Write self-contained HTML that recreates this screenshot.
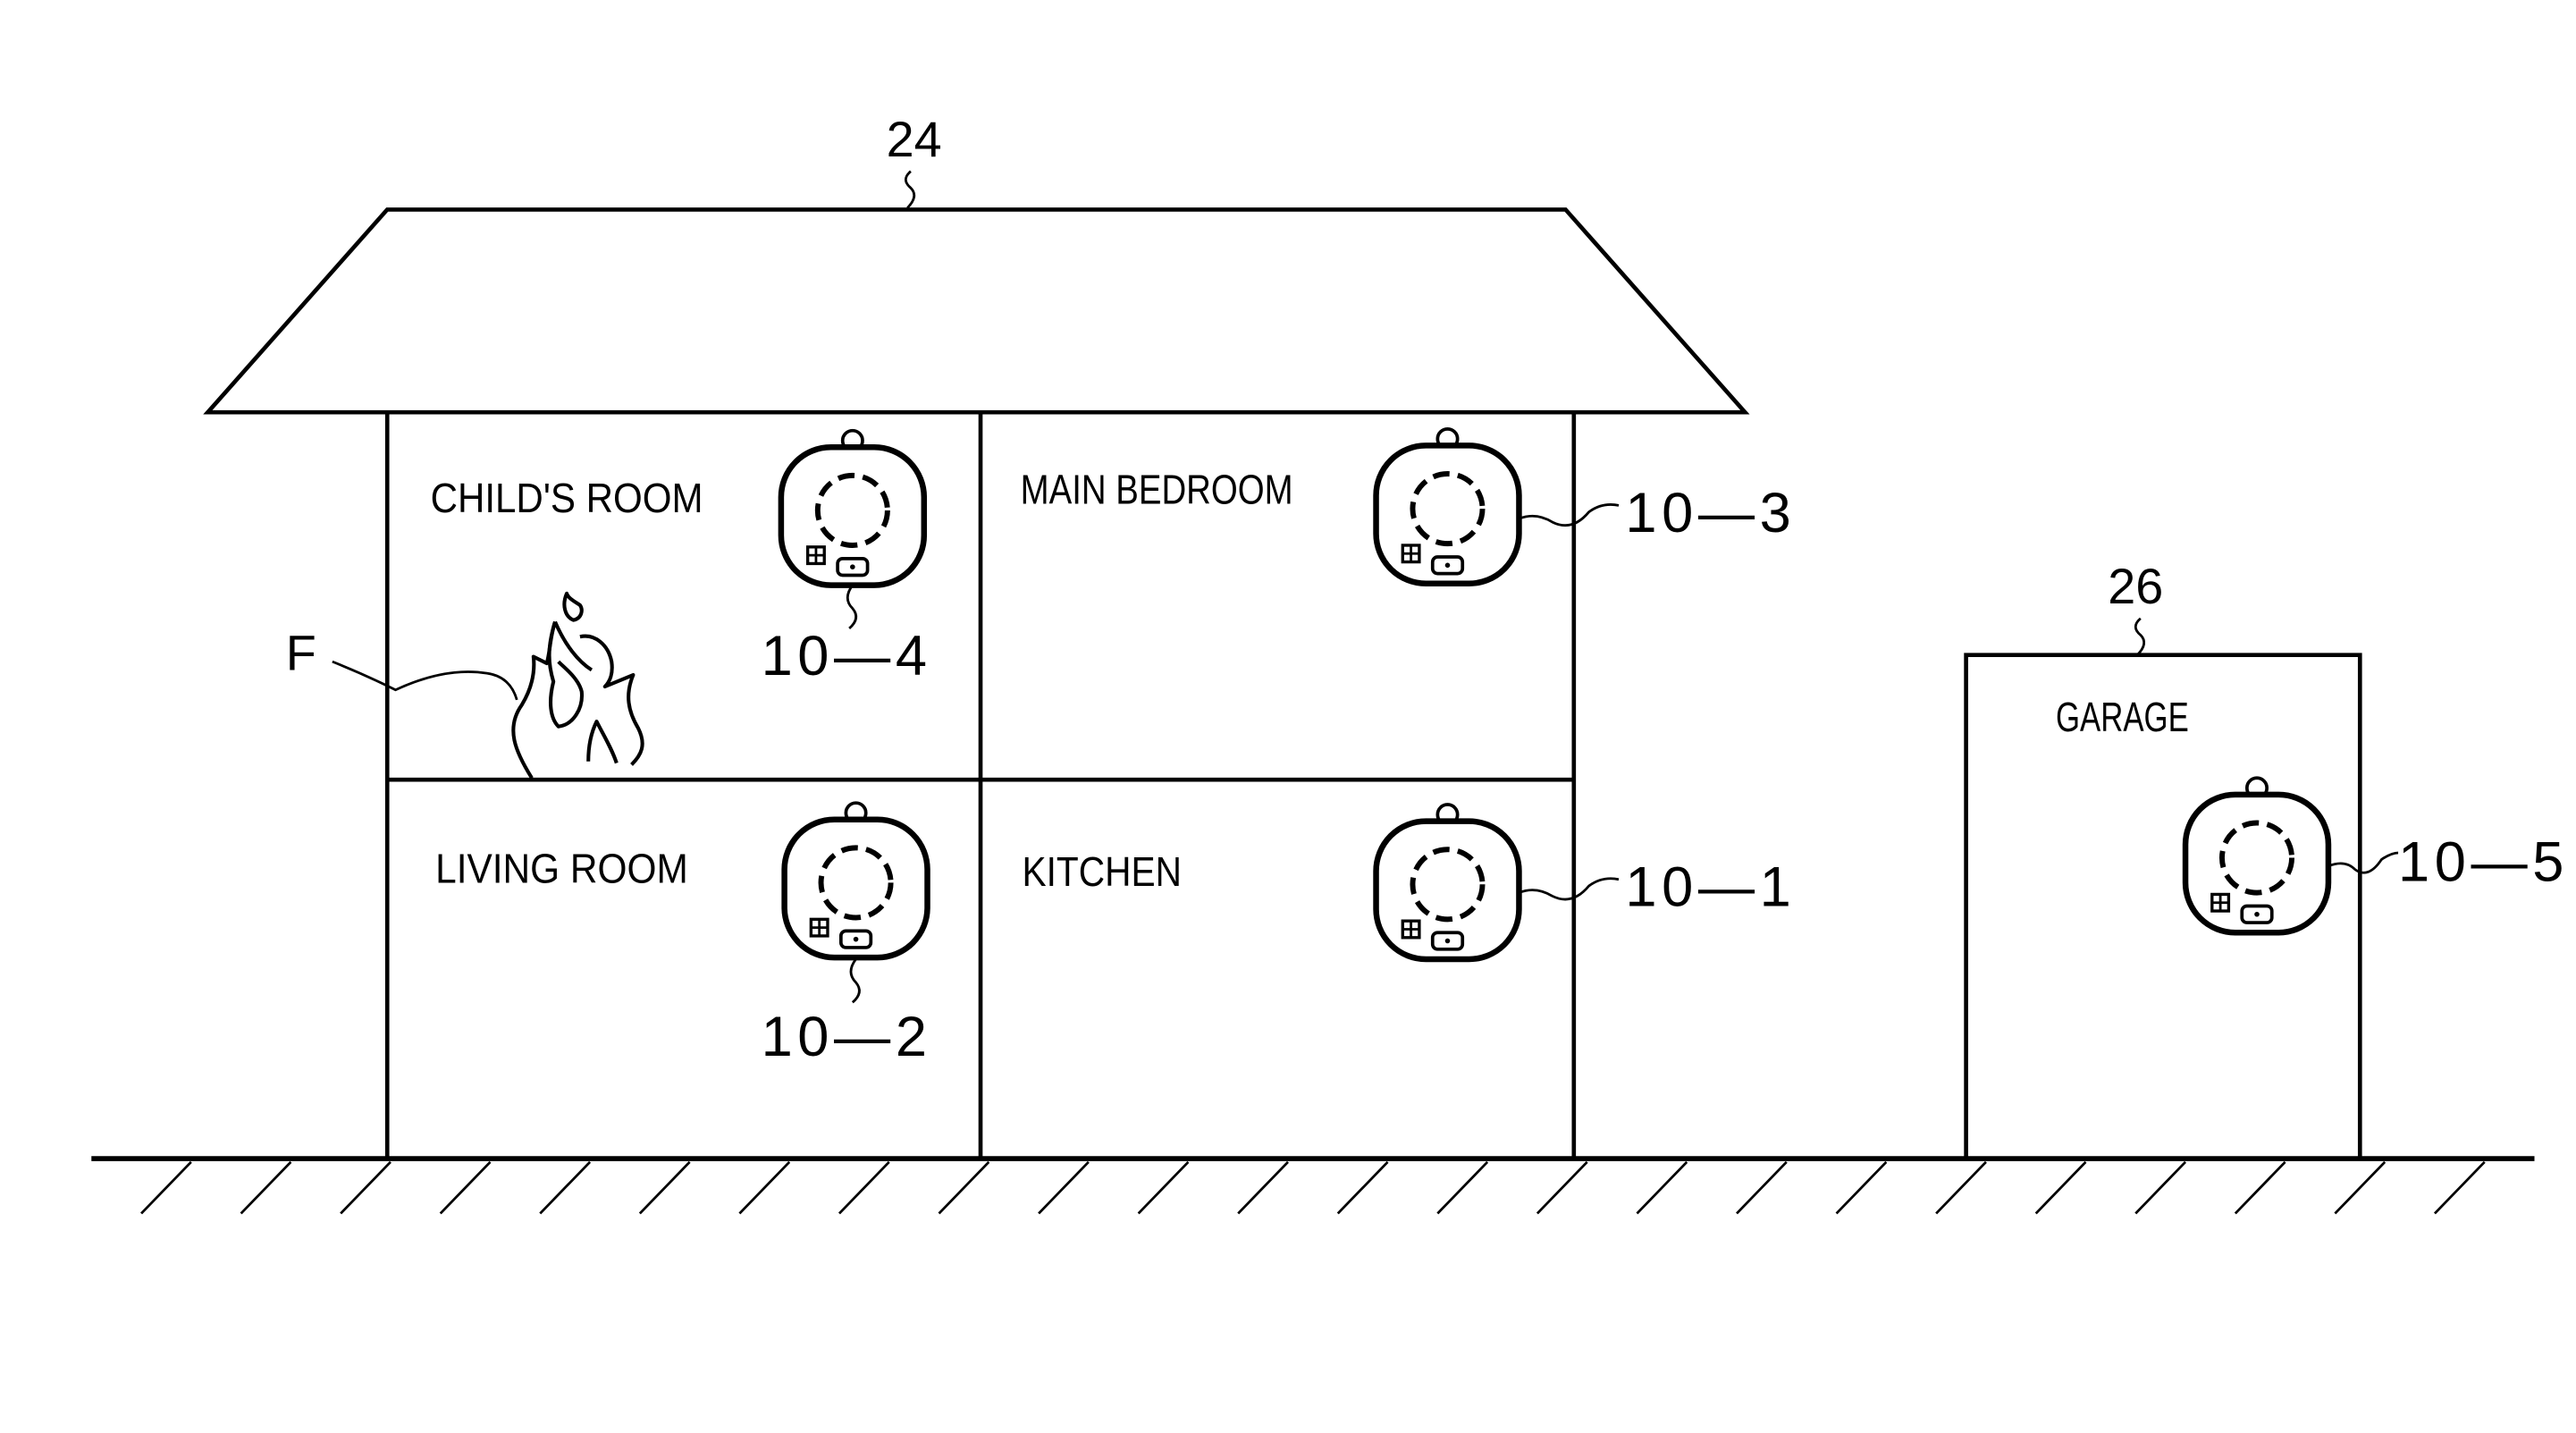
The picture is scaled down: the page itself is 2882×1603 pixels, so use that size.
<!DOCTYPE html>
<html><head><meta charset="utf-8"><style>html,body{margin:0;padding:0;background:#fff}svg{display:block}</style></head>
<body>
<svg width="2882" height="1603" viewBox="0 0 1550 862" xmlns="http://www.w3.org/2000/svg">
<defs>
<g id="det" fill="none" stroke="#000">
  <circle cx="0" cy="-45" r="6" stroke-width="2" fill="#fff"/>
  <rect x="-43" y="-41" width="86" height="83" rx="30" stroke-width="3.5" fill="#fff"/>
  <circle cx="0" cy="-3" r="21" stroke-width="3.2" stroke-dasharray="10 5"/>
  <rect x="-9" y="26" width="18" height="10" rx="3" stroke-width="2"/>
  <circle cx="0" cy="31" r="1.5" fill="#000" stroke="none"/>
  <rect x="-27" y="19" width="10" height="10" stroke-width="1.8"/>
  <line x1="-22" y1="19" x2="-22" y2="29" stroke-width="1.5"/>
  <line x1="-27" y1="24" x2="-17" y2="24" stroke-width="1.5"/>
</g>
</defs>
<g fill="none" stroke="#000" stroke-width="2.5">
  <polygon points="233,126 942,126 1050,248 125,248"/>
  <line x1="233" y1="248" x2="233" y2="697"/>
  <line x1="590" y1="248" x2="590" y2="697"/>
  <line x1="947" y1="248" x2="947" y2="697"/>
  <line x1="233" y1="469" x2="947" y2="469"/>
  <polyline points="1183,697 1183,394 1420,394 1420,697"/>
  <line x1="55" y1="697" x2="1525" y2="697" stroke-width="3"/>
</g>
<g stroke="#000" stroke-width="1.5">
  <line x1="115" y1="699" x2="85" y2="730"/><line x1="175" y1="699" x2="145" y2="730"/>
  <line x1="235" y1="699" x2="205" y2="730"/><line x1="295" y1="699" x2="265" y2="730"/>
  <line x1="355" y1="699" x2="325" y2="730"/><line x1="415" y1="699" x2="385" y2="730"/>
  <line x1="475" y1="699" x2="445" y2="730"/><line x1="535" y1="699" x2="505" y2="730"/>
  <line x1="595" y1="699" x2="565" y2="730"/><line x1="655" y1="699" x2="625" y2="730"/>
  <line x1="715" y1="699" x2="685" y2="730"/><line x1="775" y1="699" x2="745" y2="730"/>
  <line x1="835" y1="699" x2="805" y2="730"/><line x1="895" y1="699" x2="865" y2="730"/>
  <line x1="955" y1="699" x2="925" y2="730"/><line x1="1015" y1="699" x2="985" y2="730"/>
  <line x1="1075" y1="699" x2="1045" y2="730"/><line x1="1135" y1="699" x2="1105" y2="730"/>
  <line x1="1195" y1="699" x2="1165" y2="730"/><line x1="1255" y1="699" x2="1225" y2="730"/>
  <line x1="1315" y1="699" x2="1285" y2="730"/><line x1="1375" y1="699" x2="1345" y2="730"/>
  <line x1="1435" y1="699" x2="1405" y2="730"/><line x1="1495" y1="699" x2="1465" y2="730"/>
</g>
<use href="#det" x="513" y="310"/>
<use href="#det" x="871" y="309"/>
<use href="#det" x="515" y="534"/>
<use href="#det" x="871" y="535"/>
<use href="#det" x="1358" y="519"/>
<g fill="none" stroke="#000" stroke-width="1.5">
  <path d="M548,103 q-6,5 0,10 q5,5 -2,12"/>
  <path d="M1288,372 q-6,5 0,10 q5,5 -2,12"/>
  <path d="M513,352 q-6,8 0,14 q5,6 -2,12"/>
  <path d="M515,577 q-6,8 0,14 q5,6 -2,12"/>
  <path d="M914,312 q10,-4 20,2 q12,6 22,-6 q8,-6 18,-4"/>
  <path d="M914,537 q10,-4 20,2 q12,6 22,-6 q8,-6 18,-4"/>
  <path d="M1401,521 q10,-4 16,2 q8,6 16,-6 q6,-4 10,-4"/>
  <path d="M200,398 q20,8 38,17 q30,-14 55,-10 q14,2 18,16"/>
</g>
<g fill="none" stroke="#000" stroke-width="2.2" stroke-linejoin="round">
  <path d="M320,468 C310,452 304,438 314,424 C320,414 322,404 321,395 L329,399 C331,392 331,383 334,374"/>
  <path d="M334,374 C340,388 348,398 356,403"/>
  <path d="M349,383 C358,381 366,388 368,398 C369,405 367,410 364,413 L381,406 C376,418 378,428 384,438 C389,448 386,454 380,460"/>
  <path d="M334,374 C329,390 330,400 333,410 C330,422 331,432 336,437 C345,436 351,426 350,416 C348,408 340,402 336,398"/>
  <path d="M354,458 C354,448 356,440 359,434 C363,442 368,450 371,459"/>
  <path d="M341,357 C338,364 340,371 345,373 C350,372 351,367 349,364 C346,362 342,360 341,357 Z"/>
</g>
<g font-family="Liberation Sans, sans-serif" fill="#000">
  <text x="550" y="94" font-size="30" text-anchor="middle">24</text>
  <text x="1285" y="363" font-size="30" text-anchor="middle">26</text>
  <text x="172" y="403" font-size="30">F</text>
  <g font-size="34" letter-spacing="3">
  <text x="458" y="406">10—4</text>
  <text x="458" y="635">10—2</text>
  <text x="978" y="320">10—3</text>
  <text x="978" y="545">10—1</text>
  <text x="1443" y="530">10—5</text>
  </g>
  <g font-size="25">
    <text x="259" y="308" textLength="164" lengthAdjust="spacingAndGlyphs">CHILD'S ROOM</text>
    <text x="614" y="303" textLength="164" lengthAdjust="spacingAndGlyphs">MAIN BEDROOM</text>
    <text x="262" y="531" textLength="152" lengthAdjust="spacingAndGlyphs">LIVING ROOM</text>
    <text x="615" y="533" textLength="96" lengthAdjust="spacingAndGlyphs">KITCHEN</text>
    <text x="1237" y="440" textLength="80" lengthAdjust="spacingAndGlyphs">GARAGE</text>
  </g>
</g>
</svg>
</body></html>
